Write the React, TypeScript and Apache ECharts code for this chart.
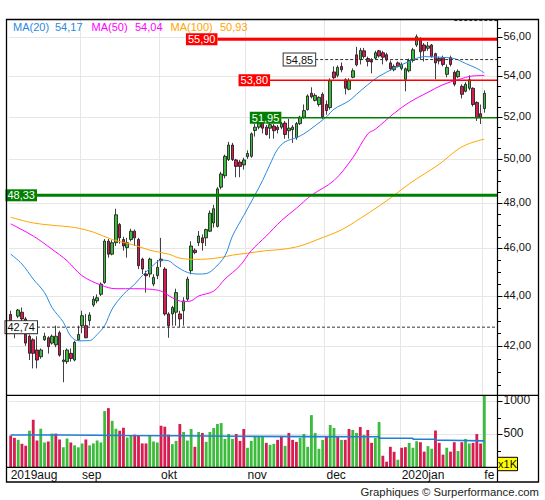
import React, { useEffect, useRef } from "react";
import * as echarts from "echarts";

// ---------- categories / axis labels ----------
const monthLabels = ["2019aug", "sep", "okt", "nov", "dec", "2020jan", "fe"];
const monthStarts = [0, 19, 40, 63, 84, 104, 126];
const SLOTS = 130;
const categories = Array.from({ length: SLOTS }, (_, i) => "d" + i);

// ---------- daily candles ----------
const open = [
  43.25, 42.75, 43.18, 43.34, 43.07, 42.38, 42.24, 41.84, 41.58, 42.24,
  42.32, 42.11, 42.04, 42.52, 41.39, 41.39, 41.71, 41.45, 42.24, 42.8,
  42.8, 43.0, 43.63, 43.8, 44.07, 44.56, 46.31, 45.75, 46.24, 47.03,
  46.38, 46.03, 46.38, 46.74, 46.38, 45.54, 44.91, 44.91, 44.49, 44.84,
  45.54, 45.12, 43.27, 43.27, 43.34, 43.27, 43.4, 43.87, 45.05, 45.92,
  46.24, 46.45, 46.45, 46.74, 47.1, 46.95, 48.7, 49.22, 49.97, 50.65,
  49.95, 49.85, 49.72, 50.1, 50.12, 51.34, 51.5, 51.72, 51.5, 51.45,
  51.55, 51.5, 51.5, 51.7, 51.33, 51.38, 51.0, 51.67, 51.98, 52.35,
  53.15, 52.8, 52.6, 53.1, 52.6, 52.45, 54.22, 54.05, 54.5, 53.83,
  53.35, 53.95, 55.09, 54.85, 55.3, 54.9, 54.8, 54.92, 55.3, 55.2,
  55.1, 54.68, 54.33, 54.68, 54.4, 53.85, 54.28, 54.8, 55.6, 55.9,
  55.6, 55.43, 55.6, 55.15, 54.9, 54.95, 54.1, 54.95, 54.2, 53.98,
  53.5, 53.25, 53.4, 53.4, 52.7, 52.15, 52.4,
];
const close = [
  42.9, 42.55, 43.43, 43.07, 42.11, 41.71, 41.71, 41.45, 41.84, 42.38,
  41.97, 42.38, 42.38, 41.64, 41.45, 41.84, 41.51, 42.14, 42.45, 43.2,
  42.32, 43.23, 43.87, 43.93, 44.49, 46.31, 45.75, 46.24, 47.46, 46.45,
  46.1, 46.24, 46.74, 46.45, 45.26, 45.12, 44.84, 45.54, 44.77, 45.19,
  45.47, 43.27, 42.8, 43.53, 44.14, 43.07, 43.8, 44.7, 46.1, 45.82,
  46.53, 46.24, 46.81, 47.53, 47.73, 48.62, 49.3, 50.12, 50.65, 49.97,
  49.65, 49.65, 49.95, 50.25, 51.18, 51.5, 51.7, 51.45, 51.15, 51.62,
  51.33, 51.38, 51.67, 51.15, 51.45, 51.5, 51.67, 51.98, 52.3, 53.02,
  52.98, 53.05, 52.95, 52.0, 52.3, 53.78, 53.93, 54.45, 54.33, 53.4,
  53.78, 54.28, 54.58, 55.32, 55.0, 54.75, 54.72, 55.2, 55.03, 54.97,
  54.83, 54.38, 54.5, 54.5, 54.6, 54.38, 54.8, 55.35, 56.03, 55.25,
  55.3, 55.55, 55.0, 54.68, 54.78, 54.6, 54.45, 54.6, 53.6, 54.25,
  53.1, 53.6, 53.83, 52.6, 51.95, 51.95, 53.15,
];
const high = [
  43.4, 43.0, 43.47, 43.53, 43.15, 42.45, 42.3, 42.38, 41.9, 42.52,
  42.38, 42.45, 42.8, 42.6, 41.84, 41.9, 41.9, 42.2, 42.8, 43.4,
  43.27, 43.34, 44.0, 44.07, 44.56, 46.4, 46.4, 46.35, 47.73, 47.1,
  46.5, 46.45, 46.85, 46.81, 46.45, 45.6, 45.05, 45.6, 44.9, 45.5,
  46.45, 45.2, 43.34, 43.6, 44.3, 43.4, 43.95, 44.8, 46.3, 46.0,
  46.75, 46.6, 46.85, 47.65, 47.9, 48.7, 49.4, 50.2, 50.8, 50.75,
  50.0, 49.95, 50.05, 50.4, 51.25, 51.65, 51.8, 51.8, 51.6, 51.9,
  51.65, 51.6, 51.75, 51.8, 51.9, 51.6, 51.75, 52.05, 52.6, 53.1,
  53.45, 53.15, 53.0, 53.2, 52.8, 53.9, 54.5, 54.55, 54.7, 53.9,
  53.9, 54.4, 55.5, 55.45, 55.45, 55.0, 54.92, 55.3, 55.35, 55.3,
  55.2, 54.8, 54.6, 54.75, 54.7, 54.45, 54.9, 55.45, 56.15, 56.0,
  55.7, 55.75, 55.65, 55.2, 55.0, 55.05, 54.6, 55.05, 54.3, 54.35,
  53.6, 53.7, 54.05, 53.45, 52.75, 52.6, 53.3,
];
const low = [
  42.55, 42.3, 43.1, 42.95, 42.0, 41.45, 41.13, 41.13, 41.5, 42.2,
  41.7, 42.05, 41.95, 41.58, 40.6, 41.3, 41.39, 41.4, 42.2, 42.5,
  42.3, 42.8, 43.55, 43.7, 44.0, 44.5, 45.6, 45.7, 46.1, 46.2,
  45.9, 45.6, 46.3, 46.1, 45.12, 44.91, 44.14, 44.77, 44.4, 44.7,
  45.2, 43.2, 42.32, 42.8, 42.8, 42.74, 42.8, 43.8, 44.9, 45.75,
  46.1, 45.9, 46.1, 46.7, 46.9, 46.9, 48.6, 49.1, 49.9, 49.9,
  49.15, 49.15, 49.5, 50.0, 50.05, 51.05, 51.4, 51.2, 51.1, 50.95,
  50.95, 51.2, 51.4, 50.95, 50.95, 50.75, 50.9, 51.6, 51.9, 52.3,
  52.9, 52.75, 52.5, 51.9, 52.1, 52.35, 53.85, 53.95, 54.2, 53.1,
  53.3, 53.9, 54.5, 54.6, 54.9, 54.5, 54.15, 54.85, 54.95, 54.6,
  54.75, 54.3, 54.25, 54.45, 54.3, 53.25, 54.2, 54.7, 55.5, 54.85,
  54.75, 55.3, 54.95, 53.85, 54.6, 54.5, 53.95, 54.5, 53.5, 53.9,
  52.9, 53.2, 53.3, 52.5, 51.8, 51.65, 52.2,
];

// ---------- volume (thousands) ----------
const volume = [
  480, 446, 416, 356, 327, 554, 718, 406, 584, 376,
  391, 510, 510, 421, 302, 436, 376, 332, 302, 361,
  421, 332, 361, 406, 376, 851, 896, 703, 584, 554,
  599, 450, 480, 495, 480, 361, 361, 480, 391, 376,
  629, 614, 495, 350, 400, 655, 535, 405, 580, 310,
  535, 520, 385, 535, 595, 655, 670, 430, 505, 430,
  505, 400, 580, 295, 400, 475, 460, 460, 370, 340,
  355, 415, 475, 325, 520, 415, 385, 445, 505, 310,
  790, 520, 280, 415, 460, 640, 595, 475, 415, 415,
  580, 565, 520, 610, 490, 565, 370, 445, 685, 175,
  85, 310, 235, 115, 296, 305, 370, 296, 394, 380,
  237, 320, 281, 557, 370, 192, 296, 237, 380, 246,
  380, 429, 360, 370, 503, 360, 1250,
];
const volumeUp = [
  0, 0, 1, 0, 0, 1, 0, 0, 1, 1,
  0, 1, 0, 0, 1, 1, 0, 1, 1, 1,
  0, 1, 1, 1, 1, 1, 0, 1, 1, 0,
  0, 1, 1, 0, 0, 0, 0, 1, 1, 1,
  0, 0, 0, 1, 1, 0, 1, 1, 1, 0,
  1, 0, 1, 1, 1, 1, 1, 1, 1, 1,
  0, 0, 0, 1, 1, 1, 1, 1, 0, 1,
  1, 0, 0, 1, 0, 0, 0, 1, 1, 1,
  1, 1, 1, 1, 0, 1, 1, 0, 1, 0,
  0, 1, 1, 0, 1, 0, 0, 1, 1, 0,
  0, 0, 0, 1, 0, 0, 1, 1, 1, 0,
  0, 1, 1, 0, 0, 0, 1, 0, 0, 1,
  0, 1, 1, 0, 0, 0, 1,
];
const volMaIdx = [0, 14, 30, 45, 60, 80, 98, 107, 113, 116, 126];
const volMa = [488, 482, 478, 470, 465, 462, 440, 425, 410, 400, 400];

// ---------- moving averages ----------
const ma20Idx = [0, 3, 6, 9, 11, 14, 16, 18, 21, 23, 25, 27, 30, 33, 35, 38, 40, 42, 44, 47, 50, 52, 54, 57, 59, 62, 65, 67, 69, 71, 73, 76, 78, 81, 84, 86, 90, 92, 95, 98, 102, 106, 110, 114, 118, 121, 124, 126];
const ma20 = [45.75, 45.33, 44.7, 44.14, 43.53, 42.94, 42.38, 42.2, 42.21, 42.45, 42.8, 43.47, 44.07, 44.49, 44.84, 45.29, 45.5, 45.47, 45.24, 44.98, 44.91, 44.93, 45.12, 45.68, 46.53, 47.43, 48.35, 49.0, 49.75, 50.45, 50.8, 51.0, 51.18, 51.57, 52.0, 52.37, 52.78, 53.1, 53.58, 54.0, 54.4, 54.75, 55.0, 54.97, 54.9, 54.65, 54.4, 54.17];
const ma50Idx = [0, 6, 11, 15, 19, 24, 28, 33, 37, 40, 43, 46, 48, 50, 54, 57, 61, 64, 68, 72, 76, 80, 86, 91, 95, 97, 102, 106, 111, 115, 119, 123, 126];
const ma50 = [47.06, 46.53, 45.96, 45.47, 44.84, 44.45, 44.3, 44.3, 44.28, 44.2, 43.93, 43.77, 43.8, 44.0, 44.2, 44.7, 45.26, 45.9, 46.53, 47.2, 47.75, 48.33, 49.0, 50.05, 51.18, 51.4, 52.17, 52.7, 53.2, 53.58, 53.83, 54.02, 54.04];
const ma100Idx = [0, 6, 11, 17, 22, 27, 33, 37, 42, 45, 49, 52, 56, 59, 63, 68, 72, 77, 82, 88, 93, 98, 102, 106, 110, 114, 119, 122, 126];
const ma100 = [47.35, 47.1, 47.0, 46.9, 46.7, 46.38, 46.13, 45.92, 45.75, 45.58, 45.53, 45.54, 45.61, 45.71, 45.79, 45.9, 45.95, 46.1, 46.4, 46.8, 47.3, 47.85, 48.33, 48.85, 49.3, 49.75, 50.45, 50.72, 50.93];
const maNames = ["MA(20)", "MA(50)", "MA(100)"];
const maLast = [54.17, 54.04, 50.93];

// ---------- horizontal levels ----------
const levelValues = [55.9, 54.85, 53.8, 51.95, 48.33, 42.74, 56.88];
const levelStart = [55, 81, 69, 72, 7, 7, 118];

// ---------- axis ticks ----------
const priceMajorTicks = [42, 44, 46, 48, 50, 52, 54, 56];
const priceMinorTicks = [40.5, 41, 41.5, 42.5, 43, 43.5, 44.5, 45, 45.5, 46.5, 47, 47.5, 48.5, 49, 49.5, 50.5, 51, 51.5, 52.5, 53, 53.5, 54.5, 55, 55.5, 56.5];
const volMajorTicks = [500, 1000];
const volMinorTicks = [250, 750];

// ---------- styling ----------
const FONT = '"Liberation Sans", Arial, Helvetica, sans-serif';
const UP = "#3dbb3d";
const DOWN = "#d81b50";
const GRID = "#e6e6e6";
const maColors = ["#2a8ae0", "#ff00ff", "#ffa500"];
const levelStyles = [
  { color: "#ff0000", width: 3, dash: null, label: true, bg: "#ff0000", fg: "#fff", border: null },
  { color: "#333", width: 1, dash: [3, 2], label: true, bg: "#fff", fg: "#111", border: "#333" },
  { color: "#ff0000", width: 1.6, dash: null, label: true, bg: "#ff0000", fg: "#fff", border: null },
  { color: "#008000", width: 1.6, dash: null, label: true, bg: "#008000", fg: "#fff", border: null },
  { color: "#008000", width: 3, dash: null, label: true, bg: "#008000", fg: "#fff", border: null },
  { color: "#333", width: 1, dash: [3, 2], label: true, bg: "#fff", fg: "#111", border: "#333" },
  { color: "#333", width: 1, dash: [3, 2], label: false, bg: null, fg: "#111", border: null },
];

const fmt2 = (v: number) => v.toFixed(2).replace(".", ",");

const L = 8.8;
const RIGHT_EDGE = 497.5;
const PRICE_TOP = 20;
const PRICE_BOTTOM = 395.3;
const VOL_BOTTOM = 467.3;

export default function App() {
  const ref = useRef<HTMLDivElement>(null);

  useEffect(() => {
    const chart = echarts.init(ref.current!, null, { renderer: "svg" });

    const isBoundary = (i: number) => monthStarts.indexOf(i) > 0;
    const isStart = (i: number) => monthStarts.indexOf(i) >= 0;

    const gridLineSeries = (xi: number, ticks: number[]) => ({
      type: "custom",
      xAxisIndex: xi,
      yAxisIndex: xi,
      z: 1,
      silent: true,
      data: ticks.map((v) => [0, v]),
      renderItem: (params: any, api: any) => {
        const p = api.coord([0, api.value(1)]);
        const cs = params.coordSys;
        const y = Math.round(p[1]) + 0.5;
        return {
          type: "line",
          shape: { x1: cs.x, y1: y, x2: cs.x + cs.width, y2: y },
          style: { stroke: GRID, lineWidth: 1 },
        };
      },
    });

    const tickSeries = (xi: number, major: number[], minor: number[], label: (v: number) => string, fs: number) => ({
      type: "custom",
      xAxisIndex: xi,
      yAxisIndex: xi,
      z: 10,
      silent: true,
      clip: false,
      data: major.map((v) => [0, v, 1]).concat(minor.map((v) => [0, v, 0])),
      renderItem: (params: any, api: any) => {
        const v = api.value(1);
        const isMajor = api.value(2) === 1;
        const p = api.coord([0, v]);
        const y = Math.round(p[1]) + 0.5;
        const children: any[] = [
          {
            type: "line",
            shape: { x1: RIGHT_EDGE, y1: y, x2: RIGHT_EDGE + (isMajor ? 5 : 3.5), y2: y },
            style: { stroke: "#000", lineWidth: 1 },
          },
        ];
        if (isMajor) {
          children.push({
            type: "text",
            x: RIGHT_EDGE + 6,
            y: y - 2,
            style: { text: label(v), fill: "#111", fontSize: fs, fontFamily: FONT, align: "left", verticalAlign: "middle" },
          });
        }
        return { type: "group", children };
      },
    });

    const maSeries = (idx: number[], vals: number[], color: string, name: string) => ({
      type: "line",
      name,
      xAxisIndex: 0,
      yAxisIndex: 0,
      z: 5,
      silent: true,
      smooth: 0.35,
      showSymbol: false,
      symbol: "none",
      data: idx.map((x, i) => [x, vals[i]]),
      lineStyle: { color, width: 1 },
    });

    const legendTexts: any[] = [];
    const nameX = [13, 91.5, 170.5];
    const valX = [55, 135, 220];
    maNames.forEach((n, i) => {
      legendTexts.push({
        type: "text", z: 100, x: nameX[i], y: 27,
        style: { text: n, fill: maColors[i], fontSize: 11, fontFamily: FONT, verticalAlign: "middle" },
      });
      legendTexts.push({
        type: "text", z: 100, x: valX[i], y: 27,
        style: { text: fmt2(maLast[i]), fill: maColors[i], fontSize: 11, fontFamily: FONT, verticalAlign: "middle" },
      });
    });

    const option: any = {
      animation: false,
      backgroundColor: "#fff",
      grid: [
        { left: L, right: 545 - RIGHT_EDGE, top: PRICE_TOP, height: PRICE_BOTTOM - PRICE_TOP },
        { left: L, right: 545 - RIGHT_EDGE, top: PRICE_BOTTOM, height: VOL_BOTTOM - PRICE_BOTTOM },
      ],
      xAxis: [
        {
          type: "category", gridIndex: 0, data: categories, boundaryGap: true,
          axisLine: { show: false }, axisTick: { show: false }, axisLabel: { show: false },
          splitLine: { show: true, interval: (i: number) => isBoundary(i), lineStyle: { color: GRID, width: 1 } },
        },
        {
          type: "category", gridIndex: 1, data: categories, boundaryGap: true,
          axisLine: { show: false }, axisTick: { show: false },
          axisLabel: {
            show: true,
            interval: (i: number) => isStart(i),
            formatter: (_v: string, i: number) => monthLabels[monthStarts.indexOf(i)] || "",
            align: "left", margin: 2, fontSize: 12, color: "#111", fontFamily: FONT,
          },
          splitLine: { show: true, interval: (i: number) => isBoundary(i), lineStyle: { color: GRID, width: 1 } },
        },
      ],
      yAxis: [
        { type: "log", logBase: 10, gridIndex: 0, min: 40.11, max: 56.91, show: false, splitLine: { show: false } },
        { type: "value", gridIndex: 1, min: 0, max: 1090, show: false, splitLine: { show: false } },
      ],
      series: [
        gridLineSeries(0, priceMajorTicks),
        gridLineSeries(1, volMajorTicks),
        {
          type: "candlestick",
          xAxisIndex: 0, yAxisIndex: 0, z: 3, silent: true,
          barWidth: 3,
          data: open.map((o, i) => [o, close[i], low[i], high[i]]),
          itemStyle: { color: UP, color0: DOWN, borderColor: "#111", borderColor0: "#111", borderWidth: 0.8 },
        },
        {
          type: "bar",
          xAxisIndex: 1, yAxisIndex: 1, z: 3, silent: true,
          barWidth: "75%",
          data: volume.map((v, i) => ({ value: v, itemStyle: { color: volumeUp[i] ? UP : DOWN } })),
        },
        {
          type: "line",
          xAxisIndex: 1, yAxisIndex: 1, z: 4, silent: true,
          step: "end", showSymbol: false, symbol: "none",
          data: volMaIdx.map((x, i) => [x, volMa[i]]),
          lineStyle: { color: "#1f7fd6", width: 1.6 },
        },
        maSeries(ma100Idx, ma100, maColors[2], "MA100"),
        maSeries(ma50Idx, ma50, maColors[1], "MA50"),
        maSeries(ma20Idx, ma20, maColors[0], "MA20"),
        {
          type: "custom",
          xAxisIndex: 0, yAxisIndex: 0, z: 6, silent: true, clip: false,
          data: levelValues.map((v, i) => [levelStart[i], v, i]),
          renderItem: (params: any, api: any) => {
            const i = api.value(2);
            const st = levelStyles[i];
            const p = api.coord([api.value(0), api.value(1)]);
            const cs = params.coordSys;
            const y = p[1];
            const children: any[] = [
              {
                type: "line",
                shape: { x1: p[0], y1: y, x2: cs.x + cs.width, y2: y },
                style: { stroke: st.color, lineWidth: st.width, lineDash: st.dash },
              },
            ];
            if (st.label) {
              children.push({
                type: "text",
                x: p[0], y: y,
                style: {
                  text: fmt2(levelValues[i]), fill: st.fg, fontSize: 11, fontFamily: FONT,
                  align: "right", verticalAlign: "middle",
                  backgroundColor: st.bg, borderColor: st.border || undefined, borderWidth: st.border ? 1 : 0,
                  padding: [1, 2, 0, 2],
                },
              });
            }
            return { type: "group", children };
          },
        },
        tickSeries(0, priceMajorTicks, priceMinorTicks, fmt2, 11),
        tickSeries(1, volMajorTicks, volMinorTicks, (v) => String(v), 12),
      ],
      graphic: [
        {
          type: "rect", z: 100, silent: true,
          shape: { x: 6.5, y: 19.5, width: 532, height: 462.5 },
          style: { fill: "none", stroke: "#000", lineWidth: 1.3 },
        },
        { type: "line", z: 100, silent: true, shape: { x1: 6.5, y1: PRICE_BOTTOM, x2: 538.5, y2: PRICE_BOTTOM }, style: { stroke: "#000", lineWidth: 1.3 } },
        { type: "line", z: 100, silent: true, shape: { x1: 6.5, y1: VOL_BOTTOM, x2: RIGHT_EDGE, y2: VOL_BOTTOM }, style: { stroke: "#000", lineWidth: 1.2 } },
        { type: "line", z: 100, silent: true, shape: { x1: RIGHT_EDGE, y1: 19.5, x2: RIGHT_EDGE, y2: 482 }, style: { stroke: "#000", lineWidth: 1.2 } },
        {
          type: "rect", z: 100, silent: true,
          shape: { x: RIGHT_EDGE, y: 457.3, width: 20, height: 13.4 },
          style: { fill: "#ffff00", stroke: "#000", lineWidth: 1 },
        },
        {
          type: "text", z: 101, silent: true, x: RIGHT_EDGE + 10, y: 464.2,
          style: { text: "x1K", fill: "#111", fontSize: 11, fontFamily: FONT, align: "center", verticalAlign: "middle" },
        },
        {
          type: "text", z: 100, silent: true, x: 539, y: 492,
          style: { text: "Graphiques \u00a9 Surperformance.com", fill: "#222", fontSize: 11.3, fontFamily: FONT, align: "right", verticalAlign: "middle" },
        },
        ...legendTexts,
      ],
    };

    chart.setOption(option);
    return () => chart.dispose();
  }, []);

  return (
    <div
      ref={ref}
      style={{ position: "fixed", left: 0, top: 0, width: 545, height: 500, background: "#fff" }}
    />
  );
}
